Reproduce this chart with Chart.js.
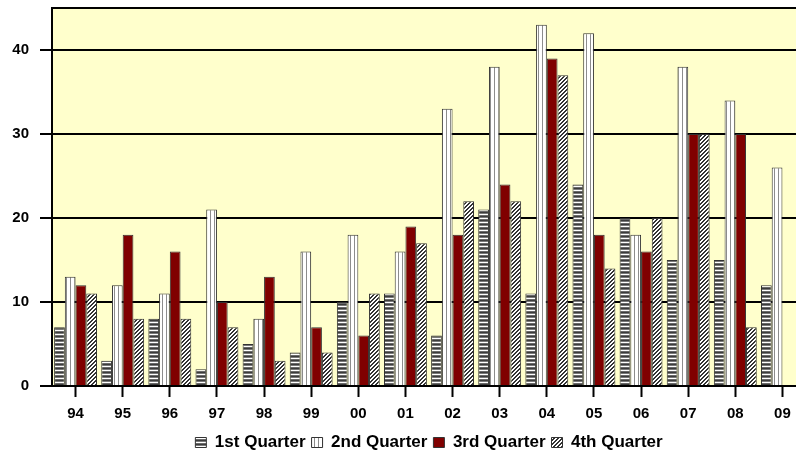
<!DOCTYPE html>
<html>
<head>
<meta charset="utf-8">
<script src="https://cdn.jsdelivr.net/npm/chart.js@4.4.0/dist/chart.umd.min.js"></script>
<style>
  html, body { margin: 0; padding: 0; background: #fff; overflow: hidden; }
  #wrap { width: 820px; height: 456px; position: relative; }
</style>
</head>
<body>
<div id="wrap"><canvas id="chart"></canvas></div>
<script>
// Quarterly values per year
const years = ['94', '95', '96', '97', '98', '99', '00', '01', '02', '03', '04', '05', '06', '07', '08', '09'];
const q1 = [7, 3, 8, 2, 5, 4, 10, 11, 6, 21, 11, 24, 20, 15, 15, 12];
const q2 = [13, 12, 11, 21, 8, 16, 18, 16, 33, 38, 43, 42, 18, 38, 34, 26];
const q3 = [12, 18, 16, 10, 13, 7, 6, 19, 18, 24, 39, 18, 16, 30, 30, null];
const q4 = [11, 8, 8, 7, 3, 4, 11, 17, 22, 22, 37, 14, 20, 30, 7, null];
const seriesNames = ['1st Quarter', '2nd Quarter', '3rd Quarter', '4th Quarter'];
const yTicks = [0, 10, 20, 30, 40];
const yMax = 45;

// Build a small repeating fill pattern
function makePattern(w, h, draw) {
  const c = document.createElement('canvas');
  c.width = w;
  c.height = h;
  const g = c.getContext('2d');
  draw(g);
  return g.createPattern(c, 'repeat');
}

const hStripes = makePattern(1, 4, g => {
  const rows = ['#3c3c3c', '#7a7a7a', '#ffffff', '#6a6a6a'];
  rows.forEach((col, i) => { g.fillStyle = col; g.fillRect(0, i, 1, 1); });
});

const vStripes = makePattern(4, 1, g => {
  const cols = ['#ffffff', '#ffffff', '#8c8c8c', '#ffffff'];
  cols.forEach((col, i) => { g.fillStyle = col; g.fillRect(i, 0, 1, 1); });
});

// "/" hatch, two dark pixels per row
const diagStripes = makePattern(4, 4, g => {
  g.fillStyle = '#ffffff';
  g.fillRect(0, 0, 4, 4);
  g.fillStyle = '#333333';
  for (let i = 0; i < 4; i++) {
    g.fillRect((3 - i + 4) % 4, i, 1, 1);
    g.fillRect((4 - i + 4) % 4, i, 1, 1);
  }
});

// Light yellow plot background
const plotBackground = {
  id: 'plotBackground',
  beforeDraw(chart) {
    const { ctx, chartArea: a } = chart;
    ctx.save();
    ctx.fillStyle = '#ffffcc';
    ctx.fillRect(a.left, a.top, a.right - a.left, a.bottom - a.top);
    ctx.restore();
  }
};

const fills = [hStripes, vStripes, '#800000', diagStripes];
const values = [q1, q2, q3, q4];

const ctx = document.getElementById('chart').getContext('2d');
new Chart(ctx, {
  type: 'bar',
  data: {
    labels: years,
    datasets: values.map((data, i) => ({
      label: seriesNames[i],
      data: data,
      backgroundColor: fills[i],
      borderColor: '#333333',
      borderWidth: 1,
      barPercentage: 1.0,
      categoryPercentage: 0.91
    }))
  },
  plugins: [plotBackground],
  options: {
    responsive: true,
    maintainAspectRatio: false,
    animation: false,
    layout: { padding: { top: 8, right: 14, left: 0, bottom: -5 } },
    plugins: {
      title: { display: false },
      tooltip: { enabled: false },
      legend: {
        position: 'bottom',
        fullSize: false,
        labels: {
          color: '#000',
          font: { family: 'Liberation Sans, Arial, sans-serif', size: 17, weight: 'bold', lineHeight: 1 },
          boxWidth: 11,
          boxHeight: 10,
          padding: 6
        }
      }
    },
    scales: {
      x: {
        offset: true,
        grid: {
          offset: false,
          drawOnChartArea: false,
          drawTicks: true,
          tickLength: 11,
          tickColor: '#000',
          tickWidth: 2
        },
        border: { display: true, color: '#000', width: 2 },
        ticks: {
          color: '#000',
          padding: 8,
          maxRotation: 0,
          font: { family: 'Liberation Sans, Arial, sans-serif', size: 15, weight: 'bold' }
        },
        afterFit(scale) { scale.height = 42; }
      },
      y: {
        min: 0,
        max: yMax,
        grid: {
          color: '#000',
          lineWidth: 2,
          drawTicks: true,
          tickLength: 12,
          tickColor: c => (yTicks.includes(c.tick.value) ? '#000' : 'rgba(0,0,0,0)')
        },
        border: { display: true, color: '#000', width: 2 },
        ticks: {
          stepSize: 10,
          color: '#000',
          padding: 11,
          font: { family: 'Liberation Sans, Arial, sans-serif', size: 15, weight: 'bold' },
          callback: v => (yTicks.includes(v) ? v : '')
        },
        afterFit(scale) {
          scale.width = 52;
          scale.paddingTop = 0;
          scale.paddingBottom = 0;
        }
      }
    }
  }
});
</script>
</body>
</html>
